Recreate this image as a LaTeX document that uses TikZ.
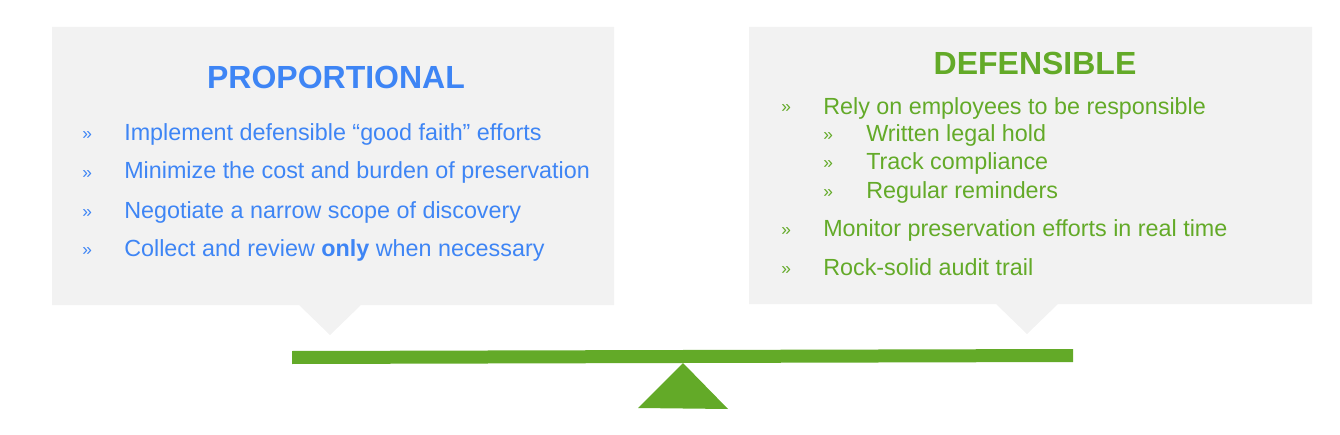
\documentclass[tikz,border=0pt]{standalone}
\usepackage{fontspec}
\setmainfont{Liberation Sans}
\definecolor{boxgray}{RGB}{242,242,242}
\definecolor{pblue}{RGB}{62,133,245}
\definecolor{dgreen}{RGB}{99,170,40}
\tikzset{
  panel/.style={fill=boxgray, draw=none},
  titletext/.style={anchor=base, inner sep=0pt, font=\fontsize{24}{28}\selectfont\bfseries},
  itemtext/.style={anchor=base west, inner sep=0pt, font=\fontsize{17.5}{20}\selectfont},
  bullettext/.style={anchor=base west, inner sep=0pt, font=\fontsize{13}{15}\selectfont},
}
\begin{document}
\begin{tikzpicture}[x=0.75pt,y=-0.75pt]
\useasboundingbox (0,0) rectangle (1340,435);
% panels with pointers
\fill[boxgray] (52,27) -- (614,27) -- (614,305) -- (361,305) -- (330,335) -- (299,305) -- (52,305) -- cycle;
\fill[boxgray] (749,27) -- (1312,27) -- (1312,304) -- (1058,304) -- (1027,334) -- (996,304) -- (749,304) -- cycle;
% left content
\node[titletext, text=pblue] (ptitle) at (336,88.5) {PROPORTIONAL};
\foreach \y/\t [count=\i] in {141/{Implement defensible “good faith” efforts},179/{Minimize the cost and burden of preservation},218/{Negotiate a narrow scope of discovery},256/{Collect and review \textbf{only} when necessary}}{
  \node[bullettext, text=pblue] (pb\i) at (82,\y-1) {»};
  \node[itemtext, text=pblue] (pi\i) at (124,\y) {\t};
}
% right content
\node[titletext, text=dgreen] (dtitle) at (1035,75) {DEFENSIBLE};
\foreach \y/\t [count=\i] in {114/{Rely on employees to be responsible},236/{Monitor preservation efforts in real time},275/{Rock-solid audit trail}}{
  \node[bullettext, text=dgreen] (db\i) at (781,\y-1) {»};
  \node[itemtext, text=dgreen] (di\i) at (823,\y) {\t};
}
\foreach \y/\t [count=\i] in {142/{Written legal hold},170/{Track compliance},198/{Regular reminders}}{
  \node[bullettext, text=dgreen] (ds\i) at (823,\y-1) {»};
  \node[itemtext, text=dgreen] (dsi\i) at (866,\y) {\t};
}
% seesaw
\fill[dgreen] (292,351) -- (1073,349) -- (1073,362) -- (292,364) -- cycle;
\fill[dgreen] (683,363) -- (728,409) -- (638,408) -- cycle;
\end{tikzpicture}
\end{document}
